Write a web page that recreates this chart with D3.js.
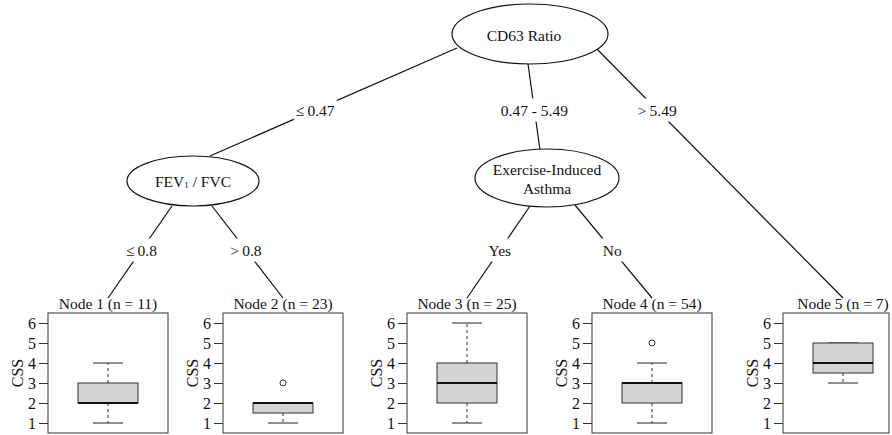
<!DOCTYPE html>
<html><head><meta charset="utf-8">
<script src="https://cdn.jsdelivr.net/npm/d3@7"></script>
<style>body{margin:0;background:#fff}svg{display:block}text{font-family:"Liberation Serif","Times New Roman",serif;fill:#111}</style>
</head><body><svg id="c" width="892" height="435"></svg>
<script>
// ---- data ----
const nodeLabels = ["Node 1", "Node 2", "Node 3", "Node 4", "Node 5"];
const nodeN = [11, 23, 25, 54, 7];
const whiskerLow = [1, 1, 1, 1, 3];
const q1 = [2, 1.5, 2, 2, 3.5];
const median = [2, 2, 3, 3, 4];
const q3 = [3, 2, 4, 3, 5];
const whiskerHigh = [4, 2, 6, 4, 5];
const outliers = [[], [3], [], [5], []];
const yTicks = [1, 2, 3, 4, 5, 6];
const yLabel = "CSS";
const splitNames = ["CD63 Ratio", "FEV1 / FVC", "Exercise-Induced Asthma"];
const edgeLabels = ["\u2264\u20090.47", "0.47 - 5.49", ">\u20095.49", "\u2264\u20090.8", ">\u20090.8", "Yes", "No"];

// ---- layout ----
const svg = d3.select("#c");
const W = 892, H = 435;
const FS = "15.5px";
const panelX = [48, 223, 407, 592, 783];
const panelW = 120, panelTop = 313, panelBot = 433;
const inner = [
  {name: splitNames[0], cx: 530, cy: 34, rx: 78, ry: 30, tdx: -6},
  {name: splitNames[1], cx: 193, cy: 181, rx: 66, ry: 25, tdx: 0},
  {name: splitNames[2], cx: 547, cy: 178, rx: 72, ry: 29, tdx: 0}
];
const edges = [
  {x1: 457, y1: 48, x2: 210, y2: 156, ly: 110, label: edgeLabels[0]},
  {x1: 528, y1: 64, x2: 540, y2: 150, ly: 110, label: edgeLabels[1]},
  {x1: 590, y1: 42, x2: 843, y2: 298, ly: 110, label: edgeLabels[2]},
  {x1: 172, y1: 206, x2: 108, y2: 298, ly: 250, label: edgeLabels[3]},
  {x1: 212, y1: 206, x2: 283, y2: 298, ly: 250, label: edgeLabels[4]},
  {x1: 530, y1: 206, x2: 467, y2: 298, ly: 250, label: edgeLabels[5]},
  {x1: 575, y1: 205, x2: 652, y2: 298, ly: 250, label: edgeLabels[6]}
];

// edges
const eg = svg.append("g");
edges.forEach(e => {
  eg.append("line").attr("x1", e.x1).attr("y1", e.y1).attr("x2", e.x2).attr("y2", e.y2)
    .attr("stroke", "#111").attr("stroke-width", 1.2);
  const t = (e.ly - e.y1) / (e.y2 - e.y1);
  const lx = e.x1 + t * (e.x2 - e.x1);
  const txt = eg.append("text").attr("x", lx).attr("y", e.ly).attr("text-anchor", "middle")
    .attr("dominant-baseline", "central").style("font-size", FS).text(e.label);
  const bb = txt.node().getBBox();
  eg.insert("rect", () => txt.node()).attr("x", bb.x - 2).attr("y", bb.y - 3)
    .attr("width", bb.width + 4).attr("height", bb.height + 6).attr("fill", "#fff");
});

// inner nodes
const ng = svg.append("g");
inner.forEach((n, i) => {
  ng.append("ellipse").attr("cx", n.cx).attr("cy", n.cy).attr("rx", n.rx).attr("ry", n.ry)
    .attr("fill", "#fff").attr("stroke", "#111").attr("stroke-width", 1.2);
  if (i === 1) {
    const t = ng.append("text").attr("x", n.cx).attr("y", n.cy).attr("text-anchor", "middle")
      .attr("dominant-baseline", "central").style("font-size", FS);
    t.append("tspan").text("FEV");
    t.append("tspan").text("1").style("font-size", "9px").attr("dy", 4);
    t.append("tspan").text(" / FVC").attr("dy", -4);
  } else if (i === 2) {
    const parts = ["Exercise-Induced", "Asthma"];
    parts.forEach((p, k) => {
      ng.append("text").attr("x", n.cx).attr("y", n.cy - 9 + k * 19).attr("text-anchor", "middle")
        .attr("dominant-baseline", "central").style("font-size", FS).text(p);
    });
  } else {
    ng.append("text").attr("x", n.cx + n.tdx).attr("y", n.cy + 1).attr("text-anchor", "middle")
      .attr("dominant-baseline", "central").style("font-size", FS).text(n.name);
  }
});

// terminal boxplots
const y = d3.scaleLinear().domain([0.5, 6.5]).range([panelBot, panelTop]);
nodeLabels.forEach((lab, i) => {
  const x0 = panelX[i];
  const x = d3.scaleLinear().domain([0, 1]).range([x0, x0 + panelW]);
  const g = svg.append("g");
  const cx = x(0.5);
  g.append("text").attr("x", cx).attr("y", panelTop - 4).attr("text-anchor", "middle")
    .style("font-size", FS).text(`${lab} (n = ${nodeN[i]})`);
  const rightEdge = Math.min(x0 + panelW, W - 3);
  g.append("rect").attr("x", x0).attr("y", panelTop).attr("width", rightEdge - x0)
    .attr("height", panelBot - panelTop).attr("fill", "none").attr("stroke", "#333").attr("stroke-width", 1);
  const ax = g.append("g").attr("transform", `translate(${x0},0)`)
    .call(d3.axisLeft(y).tickValues(yTicks).tickSize(9).tickPadding(3).tickFormat(d3.format("d")));
  ax.select(".domain").remove();
  ax.selectAll("line").attr("stroke", "#333");
  ax.selectAll("text").style("font-size", "16px").style("font-family", "Liberation Serif, serif").attr("fill", "#111");
  g.append("text").attr("transform", `translate(${x0 - 31},${(panelTop + panelBot) / 2}) rotate(-90)`)
    .attr("text-anchor", "middle").attr("dominant-baseline", "central").style("font-size", "16px").text(yLabel);
  const dash = "3,3";
  if (whiskerLow[i] < q1[i]) {
    g.append("line").attr("x1", cx).attr("x2", cx).attr("y1", y(q1[i])).attr("y2", y(whiskerLow[i]))
      .attr("stroke", "#333").attr("stroke-dasharray", dash);
  }
  if (whiskerHigh[i] > q3[i]) {
    g.append("line").attr("x1", cx).attr("x2", cx).attr("y1", y(q3[i])).attr("y2", y(whiskerHigh[i]))
      .attr("stroke", "#333").attr("stroke-dasharray", dash);
  }
  [whiskerLow[i], whiskerHigh[i]].forEach(v => {
    g.append("line").attr("x1", x(0.375)).attr("x2", x(0.625)).attr("y1", y(v)).attr("y2", y(v))
      .attr("stroke", "#333").attr("stroke-width", 1.1);
  });
  g.append("rect").attr("x", x(0.25)).attr("width", x(0.75) - x(0.25))
    .attr("y", y(q3[i])).attr("height", y(q1[i]) - y(q3[i]))
    .attr("fill", "#d3d3d3").attr("stroke", "#333").attr("stroke-width", 1);
  g.append("line").attr("x1", x(0.25)).attr("x2", x(0.75)).attr("y1", y(median[i])).attr("y2", y(median[i]))
    .attr("stroke", "#111").attr("stroke-width", 2.2);
  outliers[i].forEach(v => {
    g.append("circle").attr("cx", cx).attr("cy", y(v)).attr("r", 3)
      .attr("fill", "none").attr("stroke", "#333").attr("stroke-width", 1);
  });
});
</script></body></html>
